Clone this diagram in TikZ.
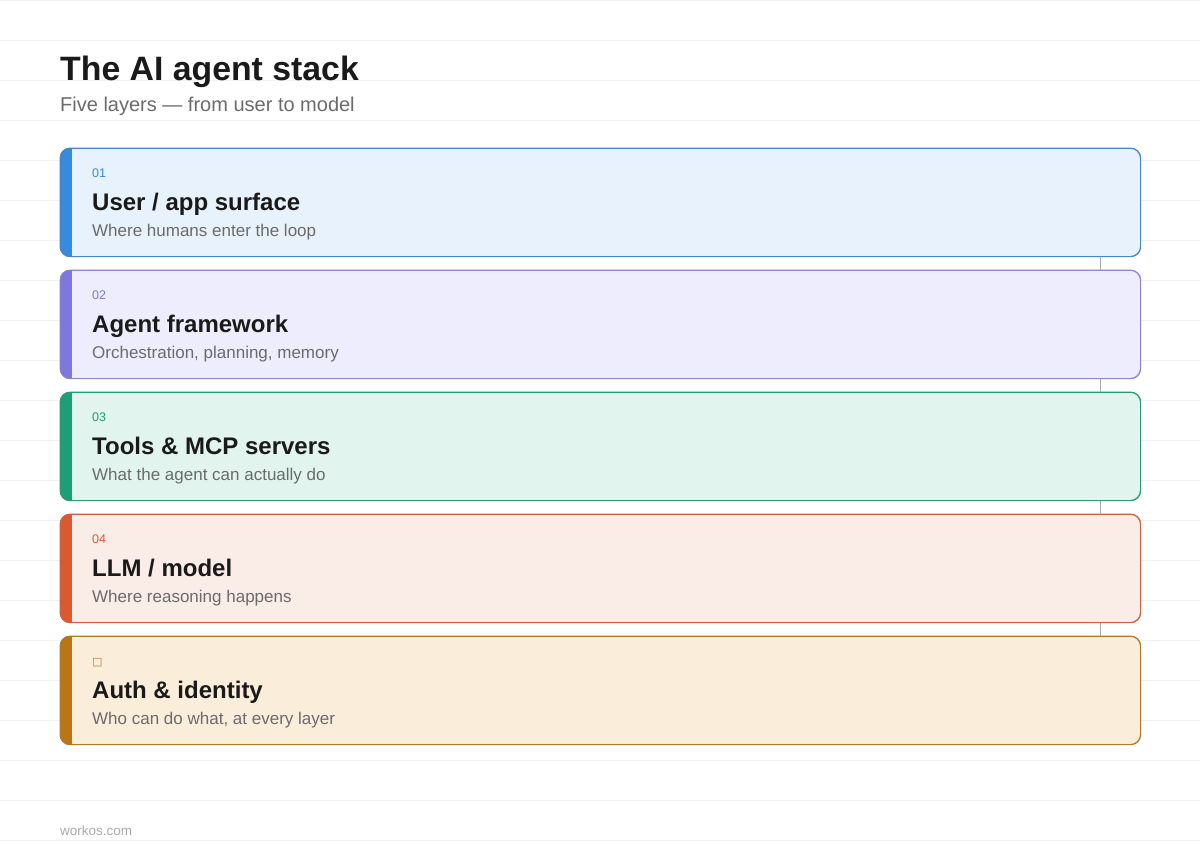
\documentclass[tikz,border=0pt]{standalone}
\usepackage{fontspec}
\setmainfont{Liberation Sans}
\newfontfamily\symfont{DejaVu Sans}
\definecolor{gridc}{HTML}{F2F2F2}
\definecolor{titlec}{HTML}{1A1A1A}
\definecolor{subc}{HTML}{6B6B6B}
\definecolor{footc}{HTML}{AAAAAA}
\definecolor{connc}{HTML}{A8A8A8}
\definecolor{fillA}{HTML}{E8F2FC}\definecolor{lineA}{HTML}{4A86C4}\definecolor{accA}{HTML}{378ADD}
\definecolor{fillB}{HTML}{EEEDFE}\definecolor{lineB}{HTML}{8E85CC}\definecolor{accB}{HTML}{7F77DD}
\definecolor{fillC}{HTML}{E1F5EE}\definecolor{lineC}{HTML}{2A9A74}\definecolor{accC}{HTML}{1D9E75}
\definecolor{fillD}{HTML}{FAECE7}\definecolor{lineD}{HTML}{C96145}\definecolor{accD}{HTML}{D85A30}
\definecolor{fillE}{HTML}{FAEEDA}\definecolor{lineE}{HTML}{AC7A2A}\definecolor{accE}{HTML}{BA7517}
\tikzset{
  layerbox/.style={draw=#1, line width=0.8pt, rounded corners=10pt, rectangle,
    minimum width=1080pt, minimum height=108pt, anchor=north west, inner sep=0pt},
  numtxt/.style={anchor=base west, inner sep=0pt, text=#1, font=\fontsize{12.5}{14}\selectfont},
  headtxt/.style={anchor=base west, inner sep=0pt, text=titlec, font=\fontsize{24}{28}\selectfont\bfseries},
  desctxt/.style={anchor=base west, inner sep=0pt, text=subc, font=\fontsize{17}{20}\selectfont},
  conn/.style={draw=connc, line width=0.8pt},
}
\begin{document}
\begin{tikzpicture}[x=1pt,y=-1pt]
\useasboundingbox (0,0) rectangle (1200,860);
\fill[white] (0,0) rectangle (1200,860);
\foreach \g in {0.5,40,80,...,840} \draw[gridc, line width=0.8pt] (0,\g) -- (1200,\g);
\node[anchor=base west, inner sep=0pt, text=titlec, font=\fontsize{33.8}{40}\selectfont\bfseries] (title) at (60,80) {The AI agent stack};
\node[anchor=base west, inner sep=0pt, text=subc, font=\fontsize{20}{24}\selectfont] (subtitle) at (60,111) {Five layers — from user to model};
% boxes
\foreach \nm/\ty/\cl in {b1/148/A, b2/270/B, b3/392/C, b4/514/D, b5/636/E} {
  \node[layerbox=line\cl, fill=fill\cl] (\nm) at (60,\ty) {};
  \begin{scope}
    \clip[rounded corners=10pt] (\nm.south west) rectangle (\nm.north east);
    \fill[acc\cl] (\nm.south west) rectangle ([xshift=12pt]\nm.north west);
  \end{scope}
  \draw[draw=line\cl, line width=0.8pt, rounded corners=10pt] (\nm.south west) rectangle (\nm.north east);
}
% connectors
\draw[conn] ([xshift=-40pt]b1.south east) -- ([xshift=-40pt]b2.north east);
\draw[conn] ([xshift=-40pt]b2.south east) -- ([xshift=-40pt]b3.north east);
\draw[conn] ([xshift=-40pt]b3.south east) -- ([xshift=-40pt]b4.north east);
\draw[conn] ([xshift=-40pt]b4.south east) -- ([xshift=-40pt]b5.north east);
% texts
\node[numtxt=accA] (n1) at (92,177) {01};
\node[headtxt] (h1) at (92,210) {User / app surface};
\node[desctxt] (d1) at (92,236) {Where humans enter the loop};
\node[numtxt=accB] (n2) at (92,299) {02};
\node[headtxt] (h2) at (92,332) {Agent framework};
\node[desctxt] (d2) at (92,358) {Orchestration, planning, memory};
\node[numtxt=accC] (n3) at (92,421) {03};
\node[headtxt] (h3) at (92,454) {Tools \& MCP servers};
\node[desctxt] (d3) at (92,480) {What the agent can actually do};
\node[numtxt=accD] (n4) at (92,543) {04};
\node[headtxt] (h4) at (92,576) {LLM / model};
\node[desctxt] (d4) at (92,602) {Where reasoning happens};
\node[numtxt=accE] (n5) at (92,665) {\symfont\fontsize{11}{13}\selectfont □};
\node[headtxt] (h5) at (92,698) {Auth \& identity};
\node[desctxt] (d5) at (92,724) {Who can do what, at every layer};
\node[anchor=base west, inner sep=0pt, text=footc, font=\fontsize{13.5}{15}\selectfont] (foot) at (60,835) {workos.com};
\end{tikzpicture}
\end{document}
